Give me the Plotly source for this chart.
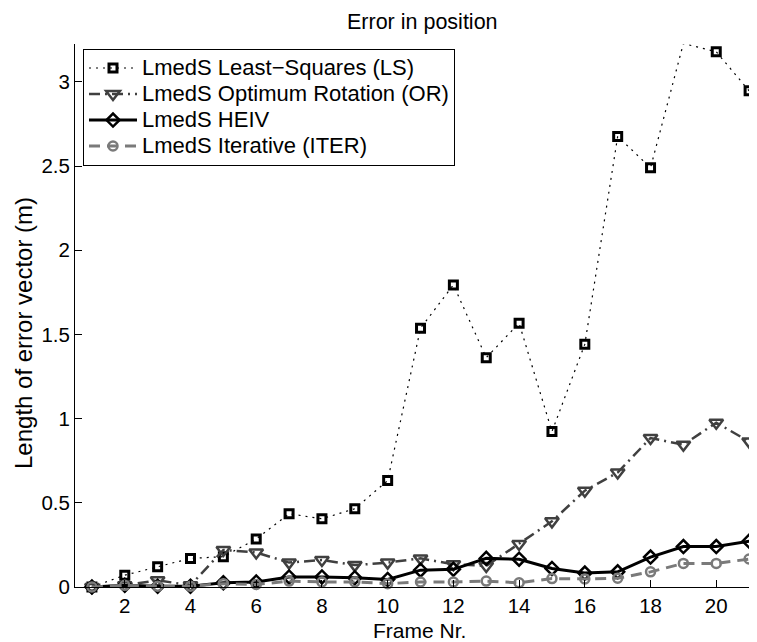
import plotly.graph_objects as go

frames = list(range(1, 22))
ls_vals = [0.0, 0.07, 0.12, 0.17, 0.18, 0.285, 0.435, 0.405, 0.465, 0.632,
           1.537, 1.794, 1.362, 1.567, 0.923, 1.442, 2.676, 2.49, 3.228, 3.179, 2.947]
or_vals = [0.0, 0.01, 0.04, 0.01, 0.22, 0.205, 0.145, 0.16, 0.13, 0.145,
           0.17, 0.135, 0.125, 0.255, 0.39, 0.572, 0.68, 0.885, 0.845, 0.976, 0.864]
heiv_vals = [0.0, 0.01, 0.005, 0.005, 0.025, 0.03, 0.06, 0.06, 0.055, 0.045,
             0.1, 0.105, 0.17, 0.165, 0.11, 0.083, 0.09, 0.178, 0.24, 0.24, 0.272]
iter_vals = [0.0, 0.01, 0.005, 0.005, 0.02, 0.015, 0.035, 0.03, 0.03, 0.02,
             0.03, 0.03, 0.035, 0.025, 0.05, 0.048, 0.052, 0.09, 0.14, 0.14, 0.166]

names = ["LmedS Least\u2212Squares (LS)", "LmedS Optimum Rotation (OR)",
         "LmedS HEIV", "LmedS Iterative (ITER)"]
x_ticks = list(range(2, 21, 2))
y_ticks = [0, 0.5, 1, 1.5, 2, 2.5, 3]
y_tick_text = ["0", "0.5", "1", "1.5", "2", "2.5", "3"]

FONT = "Liberation Sans, Arial, Helvetica, sans-serif"
OFF = 8  # default page body margin
W, H = 757 - OFF, 642 - OFF
L, R, T, B = 75 - OFF, 0, 44 - OFF, 642 - 587
pw = W - L - R
ph = H - T - B


def px(xr):
    return (xr - OFF - L) / pw


def py(yr):
    return (H - B - (yr - OFF)) / ph


def leg(name):
    return '<span style="font-size:22px">' + name + '</span>'


fig = go.Figure()
fig.add_trace(go.Scatter(
    x=frames, y=ls_vals, name=leg(names[0]), mode="lines+markers", cliponaxis=False,
    line=dict(color="black", width=1.2, dash="2px,5px"),
    marker=dict(symbol="square-open", size=8, color="black", line=dict(width=3, color="black"))))
fig.add_trace(go.Scatter(
    x=frames, y=or_vals, name=leg(names[1]), mode="lines+markers", cliponaxis=False,
    line=dict(color="#404040", width=2.5, dash="11px,5px,2px,5px"),
    marker=dict(symbol="triangle-down-open", size=12, color="#404040", line=dict(width=2.5, color="#404040"))))
fig.add_trace(go.Scatter(
    x=frames, y=heiv_vals, name=leg(names[2]), mode="lines+markers", cliponaxis=False,
    line=dict(color="black", width=3),
    marker=dict(symbol="diamond-open", size=10, color="black", line=dict(width=2.5, color="black"))))
fig.add_trace(go.Scatter(
    x=frames, y=iter_vals, name=leg(names[3]), mode="lines+markers", cliponaxis=False,
    line=dict(color="#7a7a7a", width=3, dash="11px,7px"),
    marker=dict(symbol="circle-open", size=9, color="#7a7a7a", line=dict(width=2.5, color="#7a7a7a"))))

fig.update_layout(
    width=W, height=H,
    margin=dict(l=L, r=R, t=T, b=B, autoexpand=False),
    paper_bgcolor="white", plot_bgcolor="white",
    font=dict(family=FONT, size=20, color="black"),
    showlegend=True,
    legend=dict(
        x=px(83), y=py(49), xanchor="left", yanchor="top",
        bgcolor="white", bordercolor="black", borderwidth=1,
        font=dict(family=FONT, size=17.7, color="black"),
        tracegroupgap=0, itemwidth=48, entrywidth=324, entrywidthmode="pixels",
    ),
    xaxis=dict(
        range=[0.485, 21.24], tickmode="array", tickvals=x_ticks,
        ticks="inside", ticklen=7, tickcolor="black", tickwidth=1,
        showline=True, linecolor="black", linewidth=1, mirror=False,
        showgrid=False, zeroline=False,
        tickfont=dict(family=FONT, size=20.5, color="black"),
    ),
    yaxis=dict(
        range=[0, 3.225], tickmode="array", tickvals=y_ticks, ticktext=y_tick_text,
        ticks="inside", ticklen=7, tickcolor="black", tickwidth=1,
        showline=True, linecolor="black", linewidth=1, mirror=False,
        showgrid=False, zeroline=False,
        tickfont=dict(family=FONT, size=20.5, color="black"),
    ),
    annotations=[
        dict(text="Error in position", xref="paper", yref="paper",
             x=px(422), y=py(21.5), xanchor="center", yanchor="middle",
             showarrow=False, font=dict(family=FONT, size=21.5, color="black")),
        dict(text="Frame Nr.", xref="paper", yref="paper",
             x=px(419), y=py(630), xanchor="center", yanchor="middle",
             showarrow=False, font=dict(family=FONT, size=21, color="black")),
        dict(text="Length of error vector (m)", xref="paper", yref="paper",
             x=px(23), y=py(333), xanchor="center", yanchor="middle",
             textangle=-90, showarrow=False, font=dict(family=FONT, size=24, color="black")),
    ],
)

fig.write_html("out.html")
